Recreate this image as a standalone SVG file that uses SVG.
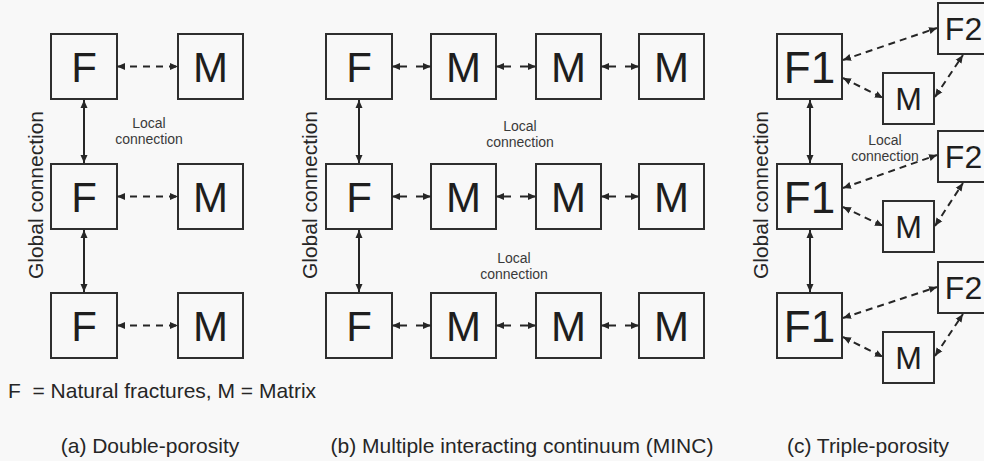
<svg xmlns="http://www.w3.org/2000/svg" width="984" height="461" viewBox="0 0 984 461">
  <style>
    .box { fill: none; stroke: #2e2e2e; stroke-width: 2; }
    .big { font-family: "Liberation Sans", Arial, sans-serif; font-size: 42px; fill: #1e1e1e; text-anchor: middle; }
    .f1 { font-family: "Liberation Sans", Arial, sans-serif; font-size: 44px; fill: #1e1e1e; text-anchor: middle; }
    .small { font-family: "Liberation Sans", Arial, sans-serif; font-size: 32px; fill: #1e1e1e; text-anchor: middle; }
    .note { font-family: "Liberation Sans", Arial, sans-serif; font-size: 14px; fill: #3a3a3a; text-anchor: middle; }
    .axis { font-family: "Liberation Sans", Arial, sans-serif; font-size: 21px; fill: #262626; text-anchor: middle; }
    .cap { font-family: "Liberation Sans", Arial, sans-serif; font-size: 21px; fill: #262626; }
    .solid { stroke: #262626; stroke-width: 2; fill: none; marker-start: url(#head); marker-end: url(#head); }
    .dash { stroke: #262626; stroke-width: 2; fill: none; stroke-dasharray: 7 6; marker-start: url(#head); marker-end: url(#head); }
    .dashb { stroke: #262626; stroke-width: 2; fill: none; stroke-dasharray: 15 9; marker-start: url(#head); marker-end: url(#head); }
    .dashc { stroke: #262626; stroke-width: 2; fill: none; stroke-dasharray: 7 5; marker-start: url(#head); marker-end: url(#head); }
  </style>
  <defs>
    <marker id="head" markerUnits="userSpaceOnUse" markerWidth="9" markerHeight="8" refX="8" refY="4" orient="auto-start-reverse">
      <path d="M0,0.5 L8,4 L0,7.5 z" fill="#262626"/>
    </marker>
  </defs>

  <rect width="984" height="461" fill="#f8f8f8"/>

  <!-- (a) Double-porosity -->
  <g id="a-F1"><rect class="box" x="51" y="34" width="66" height="65"/><text class="big" x="84" y="81.5">F</text></g>
  <g id="a-M1"><rect class="box" x="178" y="34" width="65" height="65"/><text class="big" x="210.5" y="81.5">M</text></g>
  <g id="a-F2"><rect class="box" x="51" y="164" width="66" height="65"/><text class="big" x="84" y="211.5">F</text></g>
  <g id="a-M2"><rect class="box" x="178" y="164" width="65" height="65"/><text class="big" x="210.5" y="211.5">M</text></g>
  <g id="a-F3"><rect class="box" x="51" y="293" width="66" height="65"/><text class="big" x="84" y="340.5">F</text></g>
  <g id="a-M3"><rect class="box" x="178" y="293" width="65" height="65"/><text class="big" x="210.5" y="340.5">M</text></g>

  <!-- (b) MINC -->
  <g id="b-F1"><rect class="box" x="326" y="34" width="66" height="65"/><text class="big" x="359" y="81.5">F</text></g>
  <g id="b-M11"><rect class="box" x="431" y="34" width="65" height="65"/><text class="big" x="463.5" y="81.5">M</text></g>
  <g id="b-M12"><rect class="box" x="536" y="34" width="65" height="65"/><text class="big" x="568.5" y="81.5">M</text></g>
  <g id="b-M13"><rect class="box" x="639" y="34" width="65" height="65"/><text class="big" x="671.5" y="81.5">M</text></g>
  <g id="b-F2"><rect class="box" x="326" y="164" width="66" height="65"/><text class="big" x="359" y="211.5">F</text></g>
  <g id="b-M21"><rect class="box" x="431" y="164" width="65" height="65"/><text class="big" x="463.5" y="211.5">M</text></g>
  <g id="b-M22"><rect class="box" x="536" y="164" width="65" height="65"/><text class="big" x="568.5" y="211.5">M</text></g>
  <g id="b-M23"><rect class="box" x="639" y="164" width="65" height="65"/><text class="big" x="671.5" y="211.5">M</text></g>
  <g id="b-F3"><rect class="box" x="326" y="293" width="66" height="65"/><text class="big" x="359" y="340.5">F</text></g>
  <g id="b-M31"><rect class="box" x="431" y="293" width="65" height="65"/><text class="big" x="463.5" y="340.5">M</text></g>
  <g id="b-M32"><rect class="box" x="536" y="293" width="65" height="65"/><text class="big" x="568.5" y="340.5">M</text></g>
  <g id="b-M33"><rect class="box" x="639" y="293" width="65" height="65"/><text class="big" x="671.5" y="340.5">M</text></g>

  <!-- (c) Triple-porosity -->
  <g id="c-F1a"><rect class="box" x="777" y="34" width="65" height="65"/><text class="f1" x="809.5" y="82.5">F1</text></g>
  <g id="c-F2a"><rect class="box" x="938" y="3" width="51" height="51"/><text class="small" x="963.5" y="40">F2</text></g>
  <g id="c-Ma"><rect class="box" x="883" y="73" width="51" height="51"/><text class="small" x="908.5" y="110">M</text></g>
  <g id="c-F1b"><rect class="box" x="777" y="164" width="65" height="65"/><text class="f1" x="809.5" y="212.5">F1</text></g>
  <g id="c-F2b"><rect class="box" x="938" y="131" width="51" height="51"/><text class="small" x="963.5" y="168">F2</text></g>
  <g id="c-Mb"><rect class="box" x="883" y="201" width="51" height="51"/><text class="small" x="908.5" y="238">M</text></g>
  <g id="c-F1c"><rect class="box" x="777" y="293" width="65" height="65"/><text class="f1" x="809.5" y="341.5">F1</text></g>
  <g id="c-F2c"><rect class="box" x="938" y="262" width="51" height="51"/><text class="small" x="963.5" y="299">F2</text></g>
  <g id="c-Mc"><rect class="box" x="883" y="332" width="51" height="51"/><text class="small" x="908.5" y="369">M</text></g>

  <!-- connectors -->
  <g id="connectors">
    <!-- (a) -->
    <path class="solid" d="M84,100 V163"/>
    <path class="solid" d="M84,230 V292"/>
    <path class="dash" d="M117,66.5 H178"/>
    <path class="dash" d="M117,196.5 H178"/>
    <path class="dash" d="M117,325.5 H178"/>
    <!-- (b) -->
    <path class="solid" d="M359,100 V163"/>
    <path class="solid" d="M359,230 V292"/>
    <path class="dashb" d="M392,66.5 H431"/>
    <path class="dashb" d="M496,66.5 H536"/>
    <path class="dashb" d="M601,66.5 H639"/>
    <path class="dashb" d="M392,196.5 H431"/>
    <path class="dashb" d="M496,196.5 H536"/>
    <path class="dashb" d="M601,196.5 H639"/>
    <path class="dashb" d="M392,325.5 H431"/>
    <path class="dashb" d="M496,325.5 H536"/>
    <path class="dashb" d="M601,325.5 H639"/>
    <!-- (c) -->
    <path class="solid" d="M810,100 V163"/>
    <path class="solid" d="M810,230 V292"/>
    <path class="dashc" d="M843,60 L937,28"/>
    <path class="dashc" d="M843,78 L883,98"/>
    <path class="dashc" d="M935,97 L963,55"/>
    <path class="dashc" d="M843,188 L937,155"/>
    <path class="dashc" d="M843,207 L883,226"/>
    <path class="dashc" d="M935,226 L963,183"/>
    <path class="dashc" d="M843,318 L937,287"/>
    <path class="dashc" d="M843,337 L883,357"/>
    <path class="dashc" d="M935,356 L963,314"/>
  </g>

  <!-- labels -->
  <g id="labels">
    <text class="axis" transform="translate(43,195) rotate(-90)">Global connection</text>
    <text class="axis" transform="translate(317,195) rotate(-90)">Global connection</text>
    <text class="axis" transform="translate(768,195) rotate(-90)">Global connection</text>

    <text class="note" x="149" y="128">Local</text>
    <text class="note" x="149" y="144">connection</text>
    <text class="note" x="520" y="131">Local</text>
    <text class="note" x="520" y="147">connection</text>
    <text class="note" x="514" y="263">Local</text>
    <text class="note" x="514" y="279">connection</text>
    <text class="note" x="885" y="145">Local</text>
    <text class="note" x="885" y="161">connection</text>

    <text class="cap" x="8" y="398" font-size="21.5" xml:space="preserve">F  = Natural fractures, M = Matrix</text>
    <text class="cap" x="150" y="453" text-anchor="middle">(a) Double-porosity</text>
    <text class="cap" x="522" y="453" text-anchor="middle">(b) Multiple interacting continuum (MINC)</text>
    <text class="cap" x="868" y="453" text-anchor="middle">(c) Triple-porosity</text>
  </g>
</svg>
